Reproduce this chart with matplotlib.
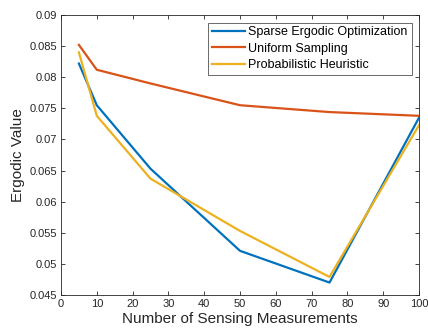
import matplotlib
matplotlib.use("Agg")
import matplotlib.pyplot as plt

plt.rcParams["font.family"] = ["Liberation Sans", "DejaVu Sans"]

n_meas = [5, 10, 25, 50, 75, 100]
sparse_ergodic = [0.0822, 0.0755, 0.0653, 0.0521, 0.0470, 0.0735]
uniform_sampling = [0.0852, 0.0812, 0.0790, 0.0755, 0.0744, 0.0738]
prob_heuristic = [0.0840, 0.0738, 0.0637, 0.0553, 0.0479, 0.0723]

fig = plt.figure(figsize=(4.28, 3.35), dpi=100)
ax = fig.add_axes([0.1425, 0.1194, 0.8365, 0.8358])

ax.plot(n_meas, sparse_ergodic, color="#0072BD", lw=1.6, label="Sparse Ergodic Optimization")
ax.plot(n_meas, uniform_sampling, color="#D95319", lw=1.6, label="Uniform Sampling")
ax.plot(n_meas, prob_heuristic, color="#EDB120", lw=1.6, label="Probabilistic Heuristic")

ax.set_xlim(0, 100)
ax.set_ylim(0.045, 0.09)
ax.set_xticks(range(0, 101, 10))
ax.set_yticks([0.045, 0.05, 0.055, 0.06, 0.065, 0.07, 0.075, 0.08, 0.085, 0.09])
ax.set_yticklabels(["0.045", "0.05", "0.055", "0.06", "0.065", "0.07", "0.075", "0.08", "0.085", "0.09"])

grey = "#262626"
for s in ax.spines.values():
    s.set_color(grey)
    s.set_linewidth(0.6)
ax.tick_params(direction="in", top=True, right=True, length=3, width=0.6,
               colors=grey, labelsize=8, pad=3)

ax.set_xlabel("Number of Sensing Measurements", fontsize=11, color=grey, labelpad=2)
ax.set_ylabel("Ergodic Value", fontsize=11, color=grey, labelpad=3)

leg = ax.legend(loc="upper right", fontsize=9, frameon=True, fancybox=False,
                edgecolor=grey, handlelength=2.6, handletextpad=0.3,
                borderpad=0.3, labelspacing=0.35, borderaxespad=0.6)
leg.get_frame().set_linewidth(0.6)

fig.savefig("out.png", dpi=100)
